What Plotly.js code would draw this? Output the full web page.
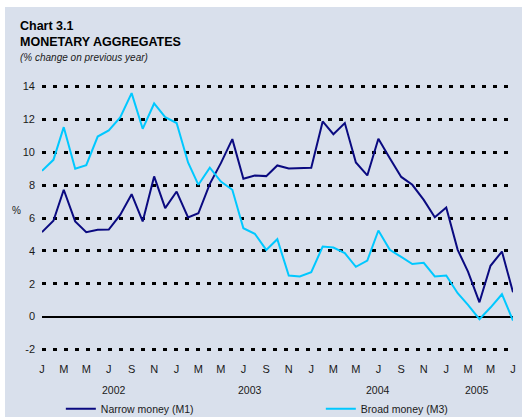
<!DOCTYPE html>
<html>
<head>
<meta charset="utf-8">
<script src="https://cdn.plot.ly/plotly-3.0.1.min.js"></script>
<style>
  html, body { margin: 0; padding: 0; background: #ffffff; }
  #chart { position: absolute; left: 5px; top: 7px; width: 517px; height: 410px; }
</style>
</head>
<body>
<div id="chart"></div>
<script>
const months = [
  '2002-01-01','2002-02-01','2002-03-01','2002-04-01','2002-05-01','2002-06-01',
  '2002-07-01','2002-08-01','2002-09-01','2002-10-01','2002-11-01','2002-12-01',
  '2003-01-01','2003-02-01','2003-03-01','2003-04-01','2003-05-01','2003-06-01',
  '2003-07-01','2003-08-01','2003-09-01','2003-10-01','2003-11-01','2003-12-01',
  '2004-01-01','2004-02-01','2004-03-01','2004-04-01','2004-05-01','2004-06-01',
  '2004-07-01','2004-08-01','2004-09-01','2004-10-01','2004-11-01','2004-12-01',
  '2005-01-01','2005-02-01','2005-03-01','2005-04-01','2005-05-01','2005-06-01',
  '2005-07-01'
];

const narrowM1 = [
  5.14, 5.83, 7.72, 5.79, 5.14, 5.28, 5.30, 6.19, 7.45, 5.79, 8.53, 6.60,
  7.61, 6.03, 6.29, 8.08, 9.34, 10.80, 8.39, 8.59, 8.55, 9.20, 9.02, 9.04,
  9.06, 11.88, 11.10, 11.78, 9.38, 8.59, 10.82, 9.64, 8.50, 8.02, 7.10, 6.05,
  6.64, 4.06, 2.74, 0.87, 3.09, 3.96, 1.48
];

const broadM3 = [
  8.87, 9.54, 11.53, 9.00, 9.22, 10.96, 11.33, 12.12, 13.60, 11.43, 12.97, 12.14,
  11.78, 9.38, 8.02, 9.06, 8.22, 7.72, 5.38, 5.04, 4.06, 4.71, 2.50, 2.44,
  2.70, 4.26, 4.20, 3.86, 3.03, 3.41, 5.24, 4.06, 3.63, 3.20, 3.27, 2.44,
  2.50, 1.42, 0.71, -0.16, 0.55, 1.36, -0.24
];

const tickDates = [
  '2002-01-01','2002-03-01','2002-05-01','2002-07-01','2002-09-01','2002-11-01',
  '2003-01-01','2003-03-01','2003-05-01','2003-07-01','2003-09-01','2003-11-01',
  '2004-01-01','2004-03-01','2004-05-01','2004-07-01','2004-09-01','2004-11-01',
  '2005-01-01','2005-03-01','2005-05-01','2005-07-01'
];
const tickLetters = [
  'J','M','M','J','S','N',
  'J','M','M','J','S','N',
  'J','M','M','J','S','N',
  'J','M','M','J'
];

const yearLabels = ['2002', '2003', '2004', '2005'];
const yearPositions = ['2002-07-15', '2003-07-20', '2004-07-01', '2005-03-25'];

const seriesNames = ['Narrow money (M1)', 'Broad money (M3)'];

const bg = '#d9e0ec';
const textColor = '#1a1a1a';
const fontFamily = '"Liberation Sans", Arial, Helvetica, sans-serif';

const traces = [
  {
    x: months, y: narrowM1, name: seriesNames[0], type: 'scatter', mode: 'lines',
    line: { color: '#0a0a80', width: 2 }, legend: 'legend'
  },
  {
    x: months, y: broadM3, name: seriesNames[1], type: 'scatter', mode: 'lines',
    line: { color: '#00c8ff', width: 2 }, legend: 'legend2'
  }
];

const annotations = yearLabels.map((t, i) => ({
  text: t, x: yearPositions[i], xref: 'x', y: -0.1225, yref: 'paper',
  showarrow: false, xanchor: 'center', yanchor: 'middle',
  font: { family: fontFamily, size: 10.5, color: textColor }
}));

annotations.push({
  text: '%', x: -0.04, xref: 'paper', y: 6.45, yref: 'y',
  showarrow: false, xanchor: 'right', yanchor: 'middle',
  font: { family: fontFamily, size: 10, color: textColor }
});

annotations.push({
  text: '<i>(% change on previous year)</i>', x: -0.052, xref: 'paper',
  y: 1.083, yref: 'paper',
  showarrow: false, xanchor: 'left', yanchor: 'middle',
  font: { family: fontFamily, size: 10, color: textColor }
});

const legendFont = { family: fontFamily, size: 10.5, color: textColor };

const layout = {
  width: 517, height: 410,
  paper_bgcolor: bg, plot_bgcolor: bg,
  margin: { l: 37, r: 9, t: 73, b: 61, autoexpand: false },
  font: { family: fontFamily, color: textColor, size: 11 },
  title: {
    text: '<b>Chart 3.1<br>MONETARY AGGREGATES</b>',
    x: 15 / 517, xref: 'container', xanchor: 'left',
    y: 1 - 23 / 410, yref: 'container', yanchor: 'top',
    font: { family: fontFamily, size: 12.5, color: '#000000' }
  },
  showlegend: true,
  legend: {
    orientation: 'h', x: 0.04, xanchor: 'left', y: -0.191, yanchor: 'middle',
    bgcolor: 'rgba(0,0,0,0)', font: legendFont
  },
  legend2: {
    orientation: 'h', x: 0.592, xanchor: 'left', y: -0.191, yanchor: 'middle',
    bgcolor: 'rgba(0,0,0,0)', font: legendFont
  },
  xaxis: {
    type: 'date',
    range: ['2002-01-01', '2005-07-01'],
    tickvals: tickDates, ticktext: tickLetters,
    showgrid: false, zeroline: false, showline: false,
    ticks: '', ticklabelstandoff: 5,
    tickfont: { family: fontFamily, size: 11, color: textColor }
  },
  yaxis: {
    range: [-2.4, 14.4],
    tickvals: [-2, 0, 2, 4, 6, 8, 10, 12, 14],
    ticktext: ['-2', '0', '2', '4', '6', '8', '10', '12', '14'],
    showgrid: true, gridcolor: '#000000', gridwidth: 3, griddash: '4px,7px',
    zeroline: true, zerolinecolor: '#000000', zerolinewidth: 2,
    showline: false, ticks: '', ticklabelstandoff: 6,
    tickfont: { family: fontFamily, size: 11, color: textColor }
  },
  annotations: annotations
};

Plotly.newPlot('chart', traces, layout, { displayModeBar: false, staticPlot: true });
</script>
</body>
</html>
